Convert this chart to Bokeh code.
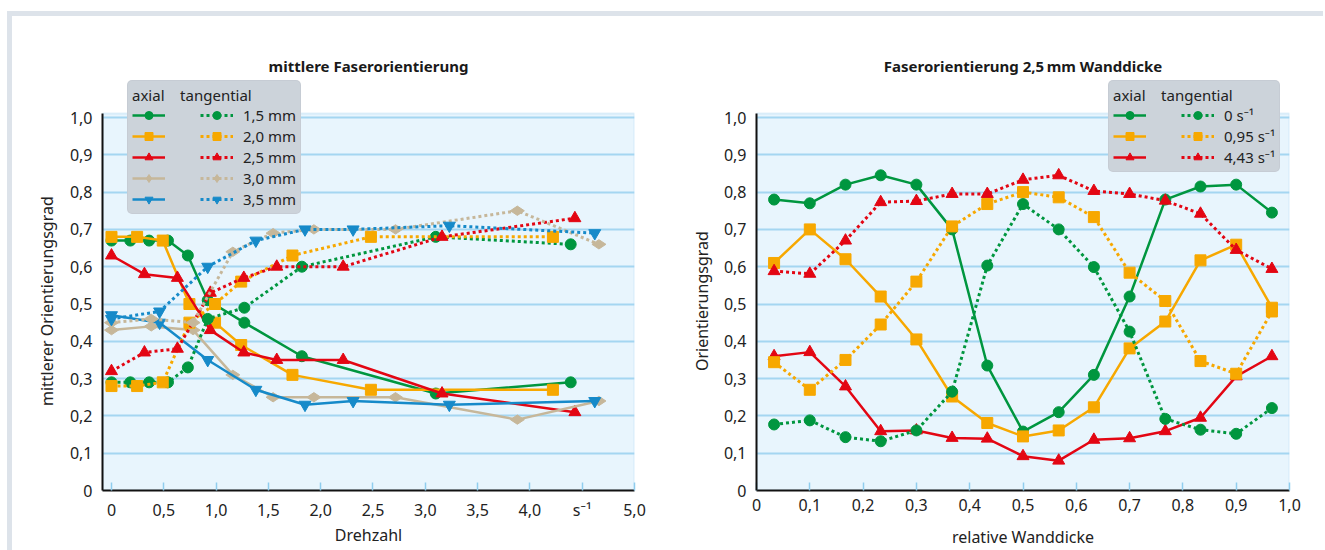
from bokeh.plotting import figure
from bokeh.models import Range1d, FixedTicker, Legend, LegendItem, Row, BoxAnnotation
from bokeh.core.properties import value
from bokeh.embed import file_html
from bokeh.resources import INLINE
import math

FONT = "Noto Sans"
GREEN = "#00963f"
ORANGE = "#f7a800"
RED = "#e30613"
TAN = "#c6b79a"
BLUE = "#168ac9"
PLOT_BG = "#e8f5fd"
GRID = "#a4d6f1"
NB = "\u00a0"

# ---------------- left chart: mittlere Faserorientierung ----------------
left_title = "mittlere Faserorientierung"
left_xlabel = "Drehzahl"
left_ylabel = "mittlerer Orientierungsgrad"
left_names = ["1,5 mm", "2,0 mm", "2,5 mm", "3,0 mm", "3,5 mm"]

x_15 = [0, 0.18, 0.36, 0.54, 0.73, 0.92, 1.27, 1.82, 3.10, 4.39]
ax_15 = [0.67, 0.67, 0.67, 0.67, 0.63, 0.51, 0.45, 0.36, 0.26, 0.29]
tg_15 = [0.29, 0.29, 0.29, 0.29, 0.33, 0.46, 0.49, 0.60, 0.68, 0.66]

x_20 = [0, 0.245, 0.49, 0.745, 0.99, 1.24, 1.73, 2.48, 4.22]
ax_20 = [0.68, 0.68, 0.67, 0.50, 0.45, 0.39, 0.31, 0.27, 0.27]
tg_20 = [0.28, 0.28, 0.29, 0.45, 0.50, 0.56, 0.63, 0.68, 0.68]

x_25 = [0, 0.315, 0.63, 0.945, 1.265, 1.58, 2.215, 3.16, 4.43]
ax_25 = [0.63, 0.58, 0.57, 0.43, 0.37, 0.35, 0.35, 0.26, 0.21]
tg_25 = [0.32, 0.37, 0.38, 0.53, 0.57, 0.60, 0.60, 0.68, 0.73]

x_30 = [0, 0.38, 0.78, 1.16, 1.545, 1.935, 2.715, 3.88, 4.66]
ax_30 = [0.43, 0.44, 0.43, 0.31, 0.25, 0.25, 0.25, 0.19, 0.24]
tg_30 = [0.45, 0.46, 0.45, 0.64, 0.69, 0.70, 0.70, 0.75, 0.66]

x_35 = [0, 0.46, 0.92, 1.38, 1.85, 2.31, 3.23, 4.62]
ax_35 = [0.47, 0.45, 0.35, 0.27, 0.23, 0.24, 0.23, 0.24]
tg_35 = [0.46, 0.48, 0.60, 0.67, 0.70, 0.70, 0.71, 0.69]

left_xticks = [0, 0.5, 1.0, 1.5, 2.0, 2.5, 3.0, 3.5, 4.0, 4.5, 5.0]
left_xticklabels = ["0", "0,5", "1,0", "1,5", "2,0", "2,5", "3,0", "3,5", "4,0", "s\u207b\u00b9", "5,0"]

# ---------------- right chart: Faserorientierung 2,5 mm Wanddicke ----------------
right_title = "Faserorientierung 2,5\u2009mm Wanddicke"
right_xlabel = "relative Wanddicke"
right_ylabel = "Orientierungsgrad"
right_names = ["0 s\u207b\u00b9", "0,95 s\u207b\u00b9", "4,43 s\u207b\u00b9"]

x_wall = [0.033, 0.1, 0.167, 0.233, 0.3, 0.367, 0.433, 0.5, 0.567, 0.633, 0.7, 0.767, 0.833, 0.9, 0.967]
ax_0 = [0.78, 0.77, 0.82, 0.845, 0.82, 0.70, 0.335, 0.158, 0.21, 0.31, 0.52, 0.78, 0.815, 0.82, 0.745]
tg_0 = [0.177, 0.188, 0.143, 0.132, 0.161, 0.265, 0.603, 0.768, 0.70, 0.599, 0.426, 0.192, 0.163, 0.152, 0.221]
ax_095 = [0.61, 0.70, 0.62, 0.52, 0.405, 0.252, 0.181, 0.145, 0.161, 0.223, 0.381, 0.453, 0.617, 0.659, 0.49]
tg_095 = [0.344, 0.27, 0.35, 0.445, 0.56, 0.708, 0.768, 0.80, 0.786, 0.733, 0.584, 0.508, 0.347, 0.313, 0.48]
ax_443 = [0.36, 0.371, 0.279, 0.159, 0.161, 0.141, 0.139, 0.092, 0.08, 0.136, 0.14, 0.159, 0.195, 0.306, 0.36]
tg_443 = [0.588, 0.581, 0.67, 0.773, 0.776, 0.795, 0.795, 0.833, 0.845, 0.803, 0.795, 0.777, 0.742, 0.645, 0.594]

right_xticks = [0, 0.1, 0.2, 0.3, 0.4, 0.5, 0.6, 0.7, 0.8, 0.9, 1.0]
right_xticklabels = ["0", "0,1", "0,2", "0,3", "0,4", "0,5", "0,6", "0,7", "0,8", "0,9", "1,0"]

yticks = [0, 0.1, 0.2, 0.3, 0.4, 0.5, 0.6, 0.7, 0.8, 0.9, 1.0]
yticklabels = ["0", "0,1", "0,2", "0,3", "0,4", "0,5", "0,6", "0,7", "0,8", "0,9", "1,0"]

Y_TOP = 1.011      # top of the light-blue plotting area
FRAME_H = 412
Y_FRAME = FRAME_H / 373.0   # frame reaches higher so the legend box may sit above the area

MARKERS = {
    "circle": dict(marker="circle", size=11, angle=0),
    "square": dict(marker="square", size=11, angle=0),
    "triangle": dict(marker="triangle", size=12, angle=0),
    "diamond": dict(marker="diamond", size=14, angle=math.pi / 2),
    "inverted_triangle": dict(marker="inverted_triangle", size=12, angle=0),
}


def make_fig(title, xr, xticks, xlabels, xlabel, ylabel, ml, mr, fw,
             x_label_standoff, y_label_standoff):
    p = figure(frame_width=fw, frame_height=FRAME_H,
               x_range=Range1d(*xr), y_range=Range1d(0, Y_FRAME),
               output_backend="svg", toolbar_location=None,
               min_border_left=ml, min_border_right=mr,
               min_border_top=62, min_border_bottom=58,
               background_fill_color="white", border_fill_color="white",
               outline_line_color=None)
    p.add_layout(BoxAnnotation(bottom=0, top=Y_TOP, fill_color=PLOT_BG, fill_alpha=1.0,
                               line_color=None, level="image"))
    p.add_layout(BoxAnnotation(bottom=0, top=Y_TOP, fill_alpha=0, line_color="#9fd1ee",
                               line_width=2, level="underlay"))
    p.title.text = title
    p.title.align = "center"
    p.title.text_font = FONT
    p.title.text_font_size = "15px"
    p.title.text_font_style = "bold"
    p.title.text_color = "#1a1a1a"
    p.title.standoff = 5

    p.xaxis.ticker = FixedTicker(ticks=xticks)
    p.xaxis.major_label_overrides = dict(zip(xticks, xlabels))
    p.yaxis.ticker = FixedTicker(ticks=yticks)
    p.yaxis.major_label_overrides = dict(zip(yticks, yticklabels))
    p.yaxis.bounds = (0, Y_TOP)

    p.axis.axis_line_color = "#111111"
    p.axis.axis_line_width = 2
    p.axis.minor_tick_line_color = None
    p.axis.major_label_text_font = FONT
    p.axis.major_label_text_font_size = "16px"
    p.axis.major_label_text_color = "#222222"
    p.axis.axis_label_text_font = FONT
    p.axis.axis_label_text_font_size = "16px"
    p.axis.axis_label_text_font_style = "normal"
    p.axis.axis_label_text_color = "#222222"

    p.xaxis.major_tick_in = 8
    p.xaxis.major_tick_out = 0
    p.xaxis.major_tick_line_color = "#8fcdee"
    p.xaxis.major_tick_line_width = 1.5
    p.xaxis.major_label_standoff = 8
    p.xaxis.axis_label_standoff = x_label_standoff
    p.xaxis.axis_label = xlabel

    p.yaxis.major_tick_line_color = None
    p.yaxis.major_tick_in = 0
    p.yaxis.major_tick_out = 0
    p.yaxis.major_label_standoff = 10
    p.yaxis.axis_label_standoff = y_label_standoff
    # trailing no-break spaces push the rotated label down so it centres on the blue area
    p.yaxis.axis_label = ylabel + NB * 8

    p.xgrid.grid_line_color = None
    p.ygrid.grid_line_color = GRID
    p.ygrid.grid_line_width = 2
    return p


def series(p, x, y, color, mk, dashed):
    r1 = p.line(x, y, line_color=color, line_width=3 if dashed else 2.5,
                line_dash="3 3" if dashed else "solid")
    m = MARKERS[mk]
    r2 = p.scatter(x, y, marker=m["marker"], size=m["size"], angle=m["angle"],
                   fill_color=color, line_color=color)
    return [r1, r2]


def make_legend(axial, tangential, names, loc):
    items = [LegendItem(label=value(" "), renderers=r) for r in axial]
    items += [LegendItem(label=value(n), renderers=r) for n, r in zip(names, tangential)]
    lg = Legend(items=items, ncols=2, location=loc,
                title="axial" + NB * 4 + "tangential")
    lg.glyph_width = 33
    lg.glyph_height = 20
    lg.label_standoff = 10
    lg.label_width = 24
    lg.label_height = 16
    lg.spacing = 1
    lg.padding = 4
    lg.margin = 0
    lg.background_fill_color = "#ccd3da"
    lg.background_fill_alpha = 1.0
    lg.border_line_color = "#bfc6cd"
    lg.label_text_font = FONT
    lg.label_text_font_size = "15px"
    lg.label_text_color = "#222222"
    lg.title_text_font = FONT
    lg.title_text_font_size = "15px"
    lg.title_text_font_style = "normal"
    lg.title_text_color = "#222222"
    lg.title_standoff = 0
    if "border_radius" in Legend.properties():
        lg.border_radius = 5
    return lg


# left figure
p1 = make_fig(left_title, (-0.086, 5.0), left_xticks, left_xticklabels,
              left_xlabel, left_ylabel, 90, 34, 532, 0, 9)
left_data = [
    (x_15, ax_15, tg_15, GREEN, "circle"),
    (x_20, ax_20, tg_20, ORANGE, "square"),
    (x_25, ax_25, tg_25, RED, "triangle"),
    (x_30, ax_30, tg_30, TAN, "diamond"),
    (x_35, ax_35, tg_35, BLUE, "inverted_triangle"),
]
ax_r1, tg_r1 = [], []
for x, a, t, c, mk in left_data:
    ax_r1.append(series(p1, x, a, c, mk, False))
for x, a, t, c, mk in left_data:
    tg_r1.append(series(p1, x, t, c, mk, True))
p1.add_layout(make_legend(ax_r1, tg_r1, left_names, (25, 276)))

# right figure
p2 = make_fig(right_title, (0, 1.0), right_xticks, right_xticklabels,
              right_xlabel, right_ylabel, 88, 34, 533, 12, 8)
right_data = [
    (ax_0, tg_0, GREEN, "circle"),
    (ax_095, tg_095, ORANGE, "square"),
    (ax_443, tg_443, RED, "triangle"),
]
ax_r2, tg_r2 = [], []
for a, t, c, mk in right_data:
    ax_r2.append(series(p2, x_wall, a, c, mk, False))
for a, t, c, mk in right_data:
    tg_r2.append(series(p2, x_wall, t, c, mk, True))
p2.add_layout(make_legend(ax_r2, tg_r2, right_names, (352, 318)))

layout = Row(children=[p1, p2], margin=(11, 0, 0, 7),
             styles={"border-top": "5px solid #dde3ea",
                     "border-left": "5px solid #dde3ea",
                     "background-color": "white"})

open("out.html", "w").write(file_html(layout, INLINE))
